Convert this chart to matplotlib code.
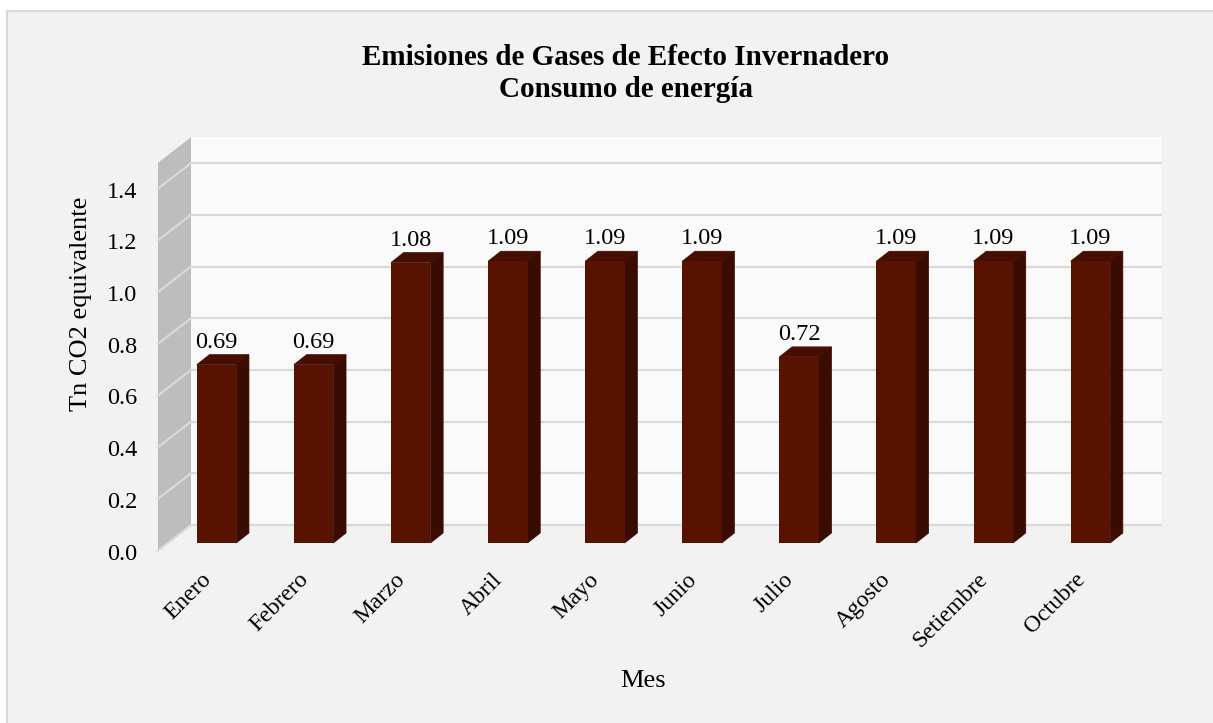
import matplotlib
matplotlib.use('Agg')
import matplotlib.pyplot as plt
from matplotlib.patches import Polygon, Rectangle
from matplotlib.transforms import Affine2D

# --- Datos ---
meses = ['Enero', 'Febrero', 'Marzo', 'Abril', 'Mayo', 'Junio', 'Julio', 'Agosto', 'Setiembre', 'Octubre']
emisiones = [0.69, 0.69, 1.085, 1.09, 1.09, 1.09, 0.72, 1.09, 1.09, 1.09]
etiquetas = ['0.69', '0.69', '1.08', '1.09', '1.09', '1.09', '0.72', '1.09', '1.09', '1.09']
y_ticks = [0.0, 0.2, 0.4, 0.6, 0.8, 1.0, 1.2, 1.4]
y_max = 1.5

# --- Geometria (pixeles) ---
W, H = 1213, 723
PX_X = 97.1      # pixeles por categoria
PX_Y = 258.5     # pixeles por unidad
LEFT, RIGHT = 158, 1128
BOTTOM = 550.5
X0 = 216.5       # centro de la primera barra

WALL_DX, WALL_DY = 33 / PX_X, 25.5 / PX_Y
BAR_DX, BAR_DY = 12.7 / PX_X, 10 / PX_Y
BAR_LIFT = 7.5 / PX_Y
BAR_W = 39.5 / PX_X
LABEL_GAP = 7 / PX_Y

C_BG = '#f2f2f2'
C_BORDER = '#d9d9d9'
C_BACK = '#fafafa'
C_WALL = '#bdbdbd'
C_GRID = '#d9d9d9'
C_FRONT = '#581200'
C_SIDE = '#3a0b00'
C_TOP = '#450e00'
C_TEXT = '#000000'
FS = 17.5
FS_MES = 17
FS_AXIS = 19

plt.rcParams['font.family'] = ['Liberation Serif', 'DejaVu Serif']

fig = plt.figure(figsize=(W / 100, H / 100), dpi=100, facecolor='white')
# el fondo llega hasta los bordes derecho e inferior de la imagen
fig.add_artist(Rectangle((7 / W, -0.02), 1.02, 1.02 - 10.5 / H, transform=fig.transFigure,
                         facecolor=C_BG, edgecolor=C_BORDER, linewidth=1.5, zorder=-1))

ax = fig.add_axes([LEFT / W, 1 - BOTTOM / H, (RIGHT - LEFT) / W, y_max * PX_Y / H])
ax.set_xlim((LEFT - X0) / PX_X, (RIGHT - X0) / PX_X)
ax.set_ylim(0, y_max)
ax.patch.set_visible(False)
for s in ax.spines.values():
    s.set_visible(False)

x0, x1 = ax.get_xlim()

# pared del fondo y pared lateral
ax.add_patch(Polygon([(x0 + WALL_DX, WALL_DY), (x1 + WALL_DX, WALL_DY),
                      (x1 + WALL_DX, y_max + WALL_DY), (x0 + WALL_DX, y_max + WALL_DY)],
                     facecolor=C_BACK, edgecolor='none', clip_on=False, zorder=1))
ax.add_patch(Polygon([(x0, 0), (x0 + WALL_DX, WALL_DY),
                      (x0 + WALL_DX, y_max + WALL_DY), (x0, y_max)],
                     facecolor=C_WALL, edgecolor='none', clip_on=False, zorder=1))

# lineas de division
for t in y_ticks:
    ax.plot([x0 + WALL_DX, x1 + WALL_DX], [t + WALL_DY, t + WALL_DY], color=C_GRID, lw=1.6, clip_on=False, zorder=2)
    ax.plot([x0, x0 + WALL_DX], [t, t + WALL_DY], color=C_GRID, lw=1.6, clip_on=False, zorder=2)

# barras
xs = list(range(len(meses)))
ax.bar(xs, emisiones, width=BAR_W, bottom=BAR_LIFT, color=C_FRONT, linewidth=0, zorder=5, clip_on=False)
for x, v in zip(xs, emisiones):
    l, r = x - BAR_W / 2, x + BAR_W / 2
    top = v + BAR_LIFT
    ax.add_patch(Polygon([(r, BAR_LIFT), (r + BAR_DX, BAR_LIFT + BAR_DY), (r + BAR_DX, top + BAR_DY), (r, top)],
                         facecolor=C_SIDE, edgecolor=C_SIDE, linewidth=0.5, clip_on=False, zorder=4))
    ax.add_patch(Polygon([(l, top), (r, top), (r + BAR_DX, top + BAR_DY), (l + BAR_DX, top + BAR_DY)],
                         facecolor=C_TOP, edgecolor=C_TOP, linewidth=0.5, clip_on=False, zorder=4))

for x, v, txt in zip(xs, emisiones, etiquetas):
    ax.text(x, v + BAR_LIFT + BAR_DY + LABEL_GAP, txt, ha='center', va='baseline', fontsize=FS, color=C_TEXT, zorder=6)

ax.set_yticks(y_ticks)
ax.set_yticklabels([f'{t:.1f}' for t in y_ticks], fontsize=FS, color=C_TEXT)
ax.tick_params(axis='y', length=0, pad=15)
ax.set_xticks(xs)
ax.set_xticklabels(meses, rotation=45, ha='right', rotation_mode='anchor', fontsize=FS_MES, color=C_TEXT)
ax.tick_params(axis='x', length=0, pad=12)
# correr las etiquetas a su sitio
for lab in ax.get_xticklabels():
    lab.set_transform(lab.get_transform() + Affine2D().translate(-16, -2))
for lab in ax.get_yticklabels():
    lab.set_transform(lab.get_transform() + Affine2D().translate(0, -1))

fig.text(643 / W, 1 - 681 / H, 'Mes', ha='center', va='center', fontsize=FS_AXIS, color=C_TEXT)
fig.text(81 / W, 1 - 304 / H, 'Tn CO2 equivalente', rotation=90, ha='center', va='center', fontsize=FS_AXIS, color=C_TEXT)
fig.text(626 / W, 1 - 73.5 / H, 'Emisiones de Gases de Efecto Invernadero\nConsumo de energía', ha='center', va='center',
         fontsize=21, fontweight='bold', color=C_TEXT, linespacing=1.2)

fig.savefig('out.png', dpi=100, facecolor=fig.get_facecolor())
